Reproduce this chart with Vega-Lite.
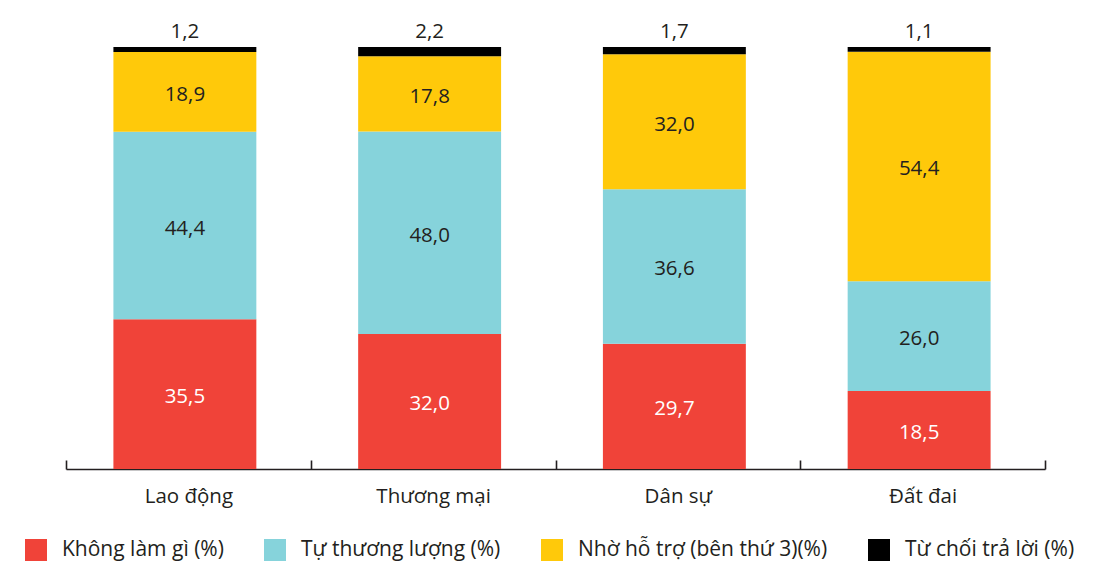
{
  "$schema": "https://vega.github.io/schema/vega-lite/v6.json",
  "autosize": {"type": "none"},
  "width": 979,
  "height": 422,
  "padding": {"left": 66, "top": 47, "right": 55, "bottom": 97},
  "config": {
    "view": {"stroke": null},
    "font": "Open Sans",
    "locale": {"number": {"decimal": ",", "thousands": ".", "grouping": [3], "currency": ["", ""]}}
  },
  "data": {"values": [
    {"cat": "Lao động", "group": "Không làm gì (%)", "o": 1, "v": 35.5},
    {"cat": "Lao động", "group": "Tự thương lượng (%)", "o": 2, "v": 44.4},
    {"cat": "Lao động", "group": "Nhờ hỗ trợ (bên thứ 3)(%)", "o": 3, "v": 18.9},
    {"cat": "Lao động", "group": "Từ chối trả lời (%)", "o": 4, "v": 1.2},
    {"cat": "Thương mại", "group": "Không làm gì (%)", "o": 1, "v": 32.0},
    {"cat": "Thương mại", "group": "Tự thương lượng (%)", "o": 2, "v": 48.0},
    {"cat": "Thương mại", "group": "Nhờ hỗ trợ (bên thứ 3)(%)", "o": 3, "v": 17.8},
    {"cat": "Thương mại", "group": "Từ chối trả lời (%)", "o": 4, "v": 2.2},
    {"cat": "Dân sự", "group": "Không làm gì (%)", "o": 1, "v": 29.7},
    {"cat": "Dân sự", "group": "Tự thương lượng (%)", "o": 2, "v": 36.6},
    {"cat": "Dân sự", "group": "Nhờ hỗ trợ (bên thứ 3)(%)", "o": 3, "v": 32.0},
    {"cat": "Dân sự", "group": "Từ chối trả lời (%)", "o": 4, "v": 1.7},
    {"cat": "Đất đai", "group": "Không làm gì (%)", "o": 1, "v": 18.5},
    {"cat": "Đất đai", "group": "Tự thương lượng (%)", "o": 2, "v": 26.0},
    {"cat": "Đất đai", "group": "Nhờ hỗ trợ (bên thứ 3)(%)", "o": 3, "v": 54.4},
    {"cat": "Đất đai", "group": "Từ chối trả lời (%)", "o": 4, "v": 1.1}
  ]},
  "transform": [
    {"stack": "v", "groupby": ["cat"], "sort": [{"field": "o", "order": "ascending"}], "as": ["y0", "y1"]},
    {"calculate": "(datum.y0 + datum.y1) / 2", "as": "ym"}
  ],
  "encoding": {
    "x": {
      "field": "cat", "type": "nominal", "sort": ["Lao động", "Thương mại", "Dân sự", "Đất đai"],
      "scale": {"paddingInner": 0, "paddingOuter": 0},
      "axis": {
        "title": null, "labelAngle": 0, "tickBand": "extent", "tickSize": -9,
        "domainColor": "#231f20", "domainWidth": 1.6, "tickColor": "#231f20", "tickWidth": 1.6,
        "labelFontSize": 20.5, "labelColor": "#231f20", "labelPadding": 26, "labelFont": "Open Sans"
      }
    }
  },
  "layer": [
    {
      "mark": {"type": "bar", "width": {"band": 0.584}, "xOffset": -3.5},
      "encoding": {
        "y": {"field": "y0", "type": "quantitative", "scale": {"domain": [0, 100], "nice": false}, "axis": null},
        "y2": {"field": "y1"},
        "color": {
          "field": "group", "type": "nominal",
          "scale": {
            "domain": ["Không làm gì (%)", "Tự thương lượng (%)", "Nhờ hỗ trợ (bên thứ 3)(%)", "Từ chối trả lời (%)"],
            "range": ["#f04339", "#86d3db", "#ffc90a", "#000000"]
          },
          "legend": {
            "title": null, "orient": "none", "direction": "horizontal",
            "legendX": -41, "legendY": 492,
            "symbolType": "square", "symbolSize": 484, "symbolStrokeWidth": 0, "symbolOpacity": 1,
            "labelFontSize": 21, "labelColor": "#231f20", "labelOffset": 15, "labelFont": "Open Sans",
            "columnPadding": 40, "labelLimit": 400
          }
        }
      }
    },
    {
      "transform": [{"filter": "datum.o < 4"}],
      "mark": {"type": "text", "fontSize": 20.5, "baseline": "middle", "dx": -3.5, "dy": 3},
      "encoding": {
        "y": {"field": "ym", "type": "quantitative", "scale": {"domain": [0, 100], "nice": false}},
        "text": {"field": "v", "type": "quantitative", "format": ".1f"},
        "color": {"condition": {"test": "datum.o == 1", "value": "#ffffff"}, "value": "#231f20"}
      }
    },
    {
      "transform": [{"filter": "datum.o == 4"}],
      "mark": {"type": "text", "fontSize": 20.5, "baseline": "alphabetic", "dy": -9, "dx": -3.5, "color": "#231f20"},
      "encoding": {
        "y": {"field": "y1", "type": "quantitative", "scale": {"domain": [0, 100], "nice": false}},
        "text": {"field": "v", "type": "quantitative", "format": ".1f"}
      }
    }
  ]
}
